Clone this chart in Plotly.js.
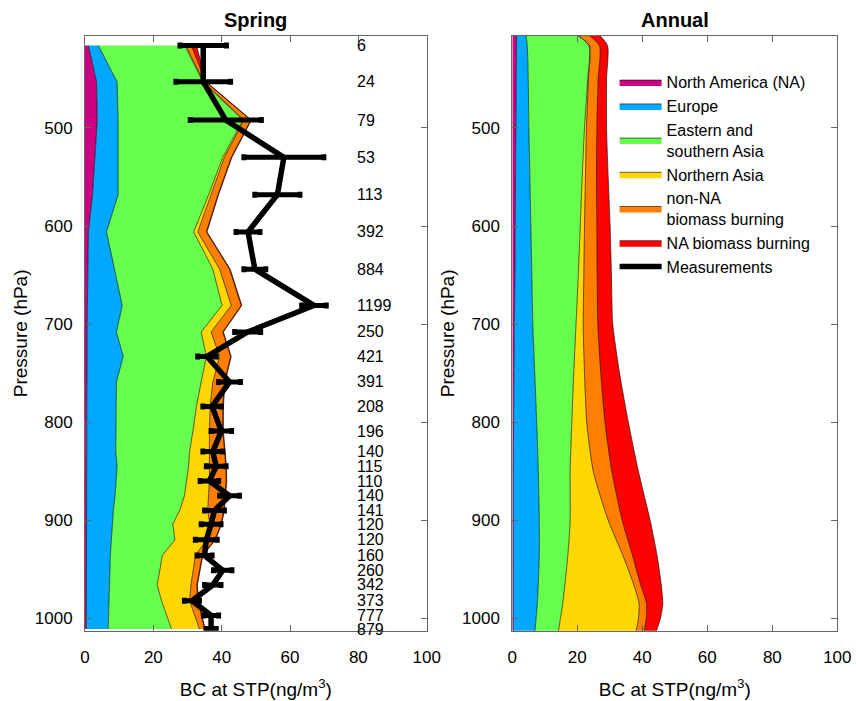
<!DOCTYPE html>
<html>
<head>
<meta charset="utf-8">
<script src="https://cdn.plot.ly/plotly-3.0.1.min.js"></script>
<style>html,body{margin:0;padding:0;background:#fff;}#chart{width:856px;height:701px;}</style>
</head>
<body>
<div id="chart"></div>
<script>
// ---------- Spring (model sampled at measurement pressure levels) ----------
const springP = [416, 453, 492, 530, 568, 606, 644, 681, 708, 733, 759, 784, 809, 830, 845, 860, 875, 890, 904, 920, 936, 951, 966, 982, 997, 1011];
const springNA      = [1.0, 3.4, 3.6, 2.9, 2.2, 1.0, 0.8, 0.7, 0.6, 0.6, 0.5, 0.5, 0.5, 0.5, 0.5, 0.5, 0.5, 0.5, 0.4, 0.4, 0.4, 0.4, 0.4, 0.4, 0.4, 0.4];
const springEurope  = [2.9, 6.0, 6.1, 6.8, 7.5, 5.3, 7.9, 10.2, 8.6, 10.6, 8.7, 8.7, 8.7, 8.5, 8.9, 8.7, 8.3, 7.8, 7.6, 7.3, 7.0, 6.9, 6.7, 6.6, 6.5, 6.4];
const springESAsia  = [25.3, 25.1, 36.5, 30.6, 26.5, 25.5, 28.7, 29.2, 24.8, 24.3, 24.8, 23.4, 22.4, 21.6, 20.9, 20.6, 20.3, 19.4, 17.7, 18.6, 15.2, 14.6, 14.0, 15.4, 17.1, 18.5];
const springNAsia   = [0.3, 0.2, 0.3, 0.5, 0.7, 1.2, 2.0, 2.7, 2.9, 3.9, 3.4, 4.0, 4.8, 5.7, 6.1, 6.6, 7.1, 8.2, 10.8, 9.2, 9.7, 9.7, 9.9, 8.2, 8.2, 8.2];
const springNonNABB = [1.6, 0.6, 2.0, 2.0, 2.0, 2.5, 2.9, 2.9, 3.4, 3.2, 3.4, 3.7, 3.9, 4.5, 4.8, 4.9, 4.8, 4.7, 3.3, 2.5, 2.0, 1.8, 1.7, 2.4, 1.8, 1.5];
const springNABB    = [1.5, 0.2, 0.2, 0.2, 0.2, 0.2, 0.2, 0.2, 0.2, 0.2, 0.2, 0.2, 0.2, 0.2, 0.2, 0.2, 0.2, 0.2, 0.2, 0.2, 0.2, 0.2, 0.2, 0.2, 0.2, 0.2];

// ---------- Measurements (spring) ----------
const measP   = springP;
const measBC  = [34.6, 34.6, 41.2, 58.2, 56.3, 47.7, 49.7, 67.0, 47.6, 35.7, 42.3, 37.2, 39.9, 37.4, 38.4, 36.4, 42.3, 37.9, 36.9, 35.5, 35.0, 40.3, 37.4, 31.3, 36.9, 36.9];
const measErr = [6.8, 8.0, 10.4, 11.7, 6.6, 3.5, 3.2, 3.6, 3.8, 2.7, 3.2, 2.7, 3.0, 2.9, 2.9, 2.7, 2.9, 2.9, 2.9, 3.2, 2.2, 2.7, 2.4, 2.2, 2.2, 1.5];
const measN   = [6, 24, 79, 53, 113, 392, 884, 1199, 250, 421, 391, 208, 196, 140, 115, 110, 140, 141, 120, 120, 160, 260, 342, 373, 777, 879];

// ---------- Annual ----------
const annualP = [400, 416, 450, 500, 550, 600, 650, 700, 750, 800, 850, 900, 935, 965, 985, 1000, 1013];
const annualNA      = [1.3, 1.3, 1.2, 1.1, 1.0, 0.9, 0.8, 0.6, 0.5, 0.4, 0.3, 0.3, 0.3, 0.3, 0.3, 0.3, 0.3];
const annualEurope  = [2.7, 3.3, 3.7, 4.0, 4.4, 4.8, 5.2, 5.7, 6.4, 7.1, 7.7, 8.0, 8.0, 7.7, 7.4, 7.0, 6.7];
const annualESAsia  = [13.6, 19.0, 18.3, 17.1, 16.1, 15.2, 14.3, 13.3, 12.0, 10.8, 9.8, 9.5, 8.8, 8.2, 7.8, 7.5, 7.2];
const annualNAsia   = [0.1, 0.1, 0.2, 0.6, 1.0, 1.3, 1.7, 2.2, 3.3, 4.6, 7.1, 11.7, 16.8, 21.1, 23.5, 24.0, 23.9];
const annualNonNABB = [3.6, 3.1, 3.0, 3.2, 3.4, 3.8, 4.1, 4.5, 5.0, 5.6, 5.7, 4.3, 3.0, 2.1, 2.3, 2.4, 2.5];
const annualNABB    = [4.0, 2.5, 2.6, 3.0, 3.6, 4.1, 4.4, 4.6, 5.8, 7.2, 8.2, 8.6, 7.6, 6.4, 5.0, 4.4, 3.7];

const sourceNames  = ['North America (NA)', 'Europe', 'Eastern and<br>southern Asia', 'Northern Asia', 'non-NA<br>biomass burning', 'NA biomass burning'];
const sourceColors = ['#CC0080', '#00A8FF', '#66FF4D', '#FFD700', '#FF8000', '#FF0000'];
const springSeries = [springNA, springEurope, springESAsia, springNAsia, springNonNABB, springNABB];
const annualSeries = [annualNA, annualEurope, annualESAsia, annualNAsia, annualNonNABB, annualNABB];

const FONT = 'Liberation Sans, Arial, Helvetica, sans-serif';
const traces = [];

springSeries.forEach((vals, i) => {
  traces.push({
    type: 'scatter', mode: 'lines', x: vals, y: springP,
    stackgroup: 'spring', orientation: 'h',
    fillcolor: sourceColors[i], line: {color: '#000', width: 0.6},
    name: sourceNames[i], showlegend: false, xaxis: 'x', yaxis: 'y', hoverinfo: 'skip'
  });
});
annualSeries.forEach((vals, i) => {
  traces.push({
    type: 'scatter', mode: 'lines', x: vals, y: annualP,
    stackgroup: 'annual', orientation: 'h',
    fillcolor: sourceColors[i], line: {color: '#000', width: 0.6, shape: 'spline', smoothing: 0.6},
    name: sourceNames[i], showlegend: true, legendrank: i + 1,
    xaxis: 'x2', yaxis: 'y2', hoverinfo: 'skip'
  });
});
traces.push({
  type: 'scatter', mode: 'lines', x: measBC, y: measP,
  line: {color: '#000', width: 5.5},
  error_x: {type: 'data', array: measErr, visible: true, color: '#000', thickness: 5, width: 3},
  name: 'Measurements', showlegend: true, legendrank: 7,
  xaxis: 'x', yaxis: 'y', hoverinfo: 'skip'
});

const annotations = [
  {text: '<b>Spring</b>', xref: 'paper', yref: 'paper', x: 0.299, y: 0.972, xanchor: 'center', yanchor: 'middle', showarrow: false, font: {family: FONT, size: 20, color: '#000'}},
  {text: '<b>Annual</b>', xref: 'paper', yref: 'paper', x: 0.7883, y: 0.972, xanchor: 'center', yanchor: 'middle', showarrow: false, font: {family: FONT, size: 20, color: '#000'}}
];
measN.forEach((n, i) => {
  annotations.push({text: String(n), xref: 'x', yref: 'y', x: 80, y: measP[i], xanchor: 'left', yanchor: 'middle',
    showarrow: false, font: {family: FONT, size: 16, color: '#000'}, borderpad: 0, xshift: -2});
});

function xAxis(domain, anchor) {
  return {
    domain: domain, anchor: anchor, range: [0, 100], tickvals: [0, 20, 40, 60, 80, 100],
    ticks: 'inside', ticklen: 6, tickcolor: '#666', tickwidth: 1,
    showline: true, linecolor: '#666', linewidth: 1, mirror: 'ticks',
    showgrid: false, zeroline: false, ticklabelstandoff: 11,
    tickfont: {family: FONT, size: 17, color: '#000'},
    title: {text: 'BC at STP(ng/m<sup>3</sup>)', font: {family: FONT, size: 19, color: '#000'}, standoff: 16}
  };
}
function yAxis(domain, anchor) {
  return {
    domain: domain, anchor: anchor, range: [1012.6, 406.3], tickvals: [500, 600, 700, 800, 900, 1000],
    ticks: 'inside', ticklen: 6, tickcolor: '#666', tickwidth: 1,
    showline: true, linecolor: '#666', linewidth: 1, mirror: 'ticks',
    showgrid: false, zeroline: false, ticklabelstandoff: 8,
    tickfont: {family: FONT, size: 17, color: '#000'},
    title: {text: 'Pressure (hPa)', font: {family: FONT, size: 19, color: '#000'}, standoff: 2}
  };
}

const layout = {
  width: 856, height: 701,
  margin: {l: 0, r: 0, t: 0, b: 0},
  paper_bgcolor: '#fff', plot_bgcolor: '#fff',
  font: {family: FONT, size: 17, color: '#000'},
  showlegend: true,
  hovermode: false,
  xaxis: xAxis([0.0993, 0.4985], 'y'),
  yaxis: yAxis([0.1003, 0.9486], 'x'),
  xaxis2: xAxis([0.5985, 0.9782], 'y2'),
  yaxis2: yAxis([0.1003, 0.9486], 'x2'),
  legend: {
    x: 0.718, y: 0.907, xanchor: 'left', yanchor: 'top',
    bgcolor: 'rgba(255,255,255,1)', borderwidth: 0,
    font: {family: FONT, size: 16, color: '#000'},
    traceorder: 'normal', itemwidth: 42, tracegroupgap: 0
  },
  annotations: annotations
};

Plotly.newPlot('chart', traces, layout, {displayModeBar: false, staticPlot: true});
</script>
</body>
</html>
